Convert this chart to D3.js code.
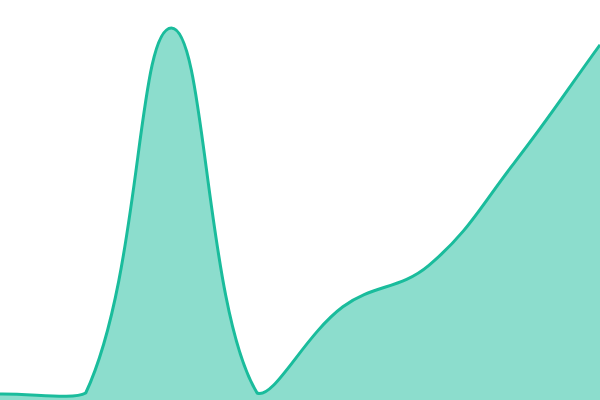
<!DOCTYPE html>
<html>
<head>
<meta charset="utf-8">
<script src="https://cdn.jsdelivr.net/npm/d3@7"></script>
<style>
  html, body { margin: 0; padding: 0; background: #fff; }
  svg { display: block; }
</style>
</head>
<body>
<svg id="chart" width="600" height="400"></svg>
<script>
// sample index along x, and the value read at each one
let steps  = [0, 1, 2, 3, 4, 5, 6, 7];
let values = [1.5, 1.75, 93, 1.75, 23.3, 33.6, 59.3, 88.8];

let width   = 600;
let height  = 400;
let tension = 0.4;

let svg = d3.select('#chart');

let x = d3.scaleLinear()
    .domain([0, steps.length - 1])
    .range([0, width]);

let y = d3.scaleLinear()
    .domain([0, 100])
    .range([height, 0]);

let data = steps.map((s, i) => { return { s: s, v: values[i] }; });

/* **************************************************************** *
 *   Curve: distance weighted spline, control points kept in the box
 * **************************************************************** */
function SplineCurve(context) {
    this._context = context;
}
SplineCurve.prototype = {
    areaStart: function () { this._line = 0; },
    areaEnd:   function () { this._line = NaN; },
    lineStart: function () { this._pts = []; },
    point: function (px, py) { this._pts.push([+px, +py]); },
    lineEnd: function () {
        let pts = this._pts;
        let n = pts.length;
        let ctx = this._context;
        let cap = (p) => {
            return [Math.max(0, Math.min(width, p[0])),
                    Math.max(0, Math.min(height, p[1]))];
        };

        // control points around each point
        let ctrl = pts.map((p, i) => {
            let prev = pts[i - 1] || p;
            let next = pts[i + 1] || p;
            let d01 = Math.hypot(p[0] - prev[0], p[1] - prev[1]);
            let d12 = Math.hypot(next[0] - p[0], next[1] - p[1]);
            let s01 = d01 / (d01 + d12) || 0;
            let s12 = d12 / (d01 + d12) || 0;
            let fa = tension * s01;
            let fb = tension * s12;
            return {
                prev: cap([p[0] - fa * (next[0] - prev[0]), p[1] - fa * (next[1] - prev[1])]),
                next: cap([p[0] + fb * (next[0] - prev[0]), p[1] + fb * (next[1] - prev[1])])
            };
        });

        if (n > 0) {
            if (this._line) ctx.lineTo(pts[0][0], pts[0][1]);
            else ctx.moveTo(pts[0][0], pts[0][1]);
        }
        for (let i = 1; i < n; i++) {
            let a = ctrl[i - 1].next;
            let b = ctrl[i].prev;
            ctx.bezierCurveTo(a[0], a[1], b[0], b[1], pts[i][0], pts[i][1]);
        }

        if (this._line || (this._line !== 0 && n === 1)) ctx.closePath();
        this._line = 1 - this._line;
    }
};
let curveSpline = (context) => { return new SplineCurve(context); };

/* **************************************************************** *
 *   Draw
 * **************************************************************** */
let area = d3.area()
    .curve(curveSpline)
    .x((d) => { return x(d.s); })
    .y0(height)
    .y1((d) => { return y(d.v); });

let line = d3.line()
    .curve(curveSpline)
    .x((d) => { return x(d.s); })
    .y((d) => { return y(d.v); });

svg.append('path')
    .datum(data)
    .attr('class', 'area')
    .attr('d', area)
    .attr('fill', '#1abc9c')
    .attr('fill-opacity', 0.5);

svg.append('path')
    .datum(data)
    .attr('class', 'line')
    .attr('d', line)
    .attr('fill', 'none')
    .attr('stroke', '#1abc9c')
    .attr('stroke-width', 3);
</script>
</body>
</html>
